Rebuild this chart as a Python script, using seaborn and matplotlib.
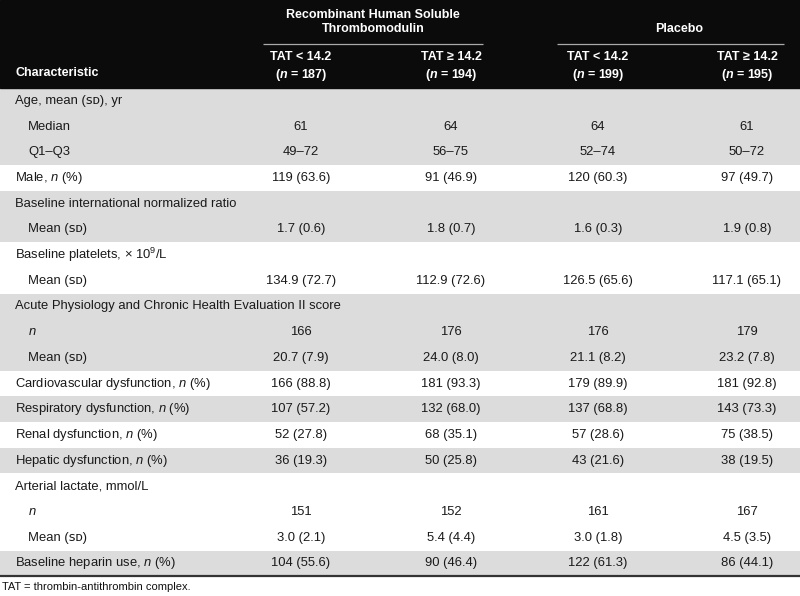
import numpy as np
import matplotlib
matplotlib.use("Agg")
from matplotlib import pyplot as plt
from matplotlib.colors import ListedColormap
import seaborn as sb

SD = "\uA731\u1D05"  # small caps "sd"

labels = ["Age, mean (" + SD + "), yr", "Median", "Q1\u2013Q3", "Male, $n$ (%)",
          "Baseline international normalized ratio", "Mean (" + SD + ")",
          "Baseline platelets, \u00d7 10$^9$/L", "Mean (" + SD + ")",
          "Acute Physiology and Chronic Health Evaluation II score", "$n$", "Mean (" + SD + ")",
          "Cardiovascular dysfunction, $n$ (%)", "Respiratory dysfunction, $n$ (%)",
          "Renal dysfunction, $n$ (%)", "Hepatic dysfunction, $n$ (%)",
          "Arterial lactate, mmol/L", "$n$", "Mean (" + SD + ")",
          "Baseline heparin use, $n$ (%)"]
indent = [0, 1, 1, 0, 0, 1, 0, 1, 0, 1, 1, 0, 0, 0, 0, 0, 1, 1, 0]
shade = [1, 1, 1, 0, 1, 1, 0, 0, 1, 1, 1, 0, 1, 0, 1, 0, 0, 0, 1]

rhs_low = ["", "61", "49\u201372", "119 (63.6)", "", "1.7 (0.6)", "", "134.9 (72.7)", "",
           "166", "20.7 (7.9)", "166 (88.8)", "107 (57.2)", "52 (27.8)", "36 (19.3)", "",
           "151", "3.0 (2.1)", "104 (55.6)"]
rhs_high = ["", "64", "56\u201375", "91 (46.9)", "", "1.8 (0.7)", "", "112.9 (72.6)", "",
            "176", "24.0 (8.0)", "181 (93.3)", "132 (68.0)", "68 (35.1)", "50 (25.8)", "",
            "152", "5.4 (4.4)", "90 (46.4)"]
pla_low = ["", "64", "52\u201374", "120 (60.3)", "", "1.6 (0.3)", "", "126.5 (65.6)", "",
           "176", "21.1 (8.2)", "179 (89.9)", "137 (68.8)", "57 (28.6)", "43 (21.6)", "",
           "161", "3.0 (1.8)", "122 (61.3)"]
pla_high = ["", "61", "50\u201372", "97 (49.7)", "", "1.9 (0.8)", "", "117.1 (65.1)", "",
            "179", "23.2 (7.8)", "181 (92.8)", "143 (73.3)", "75 (38.5)", "38 (19.5)", "",
            "167", "4.5 (3.5)", "86 (44.1)"]

groups = ["Recombinant Human Soluble\nThrombomodulin", "Placebo"]
sub_heads = ["TAT < 14.2\n($\\mathbfit{n}$ = 187)", "TAT \u2265 14.2\n($\\mathbfit{n}$ = 194)",
             "TAT < 14.2\n($\\mathbfit{n}$ = 199)", "TAT \u2265 14.2\n($\\mathbfit{n}$ = 195)"]
footnote = "TAT = thrombin-antithrombin complex."

sb.set_style("white")
plt.rcParams['font.family'] = ['Liberation Sans', 'DejaVu Sans']
plt.rcParams['mathtext.fontset'] = 'custom'
plt.rcParams['mathtext.rm'] = 'Liberation Sans'
plt.rcParams['mathtext.it'] = 'Liberation Sans:italic'
plt.rcParams['mathtext.bf'] = 'Liberation Sans:bold'
plt.rcParams['mathtext.bfit'] = 'Liberation Sans:italic:bold'

W, H = 800, 596
head_h = 88
row_h = 25.7
body_bot = head_h + row_h * len(labels)

fig = plt.figure(figsize=(8, 5.96), dpi=100)

# row striping through a one-column heatmap
ax_body = fig.add_axes([0, 1 - body_bot / H, 1, (body_bot - head_h) / H])
sb.heatmap(np.array(shade).reshape(-1, 1), cmap=ListedColormap(['white', '#dcdcdc']),
           cbar=False, ax=ax_body, xticklabels=False, yticklabels=False)
ax_body.set_axis_off()

ax = fig.add_axes([0, 0, 1, 1])
ax.set_xlim(0, W)
ax.set_ylim(H, 0)
ax.set_axis_off()
ax.patch.set_alpha(0)

ax.axhspan(0, head_h, color='#0b0b0b', zorder=0)
ax.hlines(body_bot, 0, W, color='#333333', lw=1.6)

col_x = [301, 451, 598, 747]
fs = 9.4
hfs = 9

# header
ax.text(373, 22, groups[0], color='white', fontsize=hfs, fontweight='bold',
        ha='center', va='center', linespacing=1.3)
ax.text(679, 29, groups[1], color='white', fontsize=hfs, fontweight='bold',
        ha='center', va='center')
ax.hlines(44, 263, 483, color='#aaaaaa', lw=0.9)
ax.hlines(44, 557, 784, color='#aaaaaa', lw=0.9)
for x, s in zip(col_x, sub_heads):
    ax.text(x, 67, s, color='white', fontsize=hfs, fontweight='bold',
            ha='center', va='center', linespacing=1.3)
ax.text(15, 73, "Characteristic", color='white', fontsize=hfs, fontweight='bold',
        ha='left', va='center')

# body
for i, lab in enumerate(labels):
    y = head_h + (i + 0.5) * row_h
    ax.text(15 + 13 * indent[i], y, lab, fontsize=fs, color='#1a1a1a', ha='left', va='center')
    for x, col in zip(col_x, [rhs_low, rhs_high, pla_low, pla_high]):
        if col[i]:
            ax.text(x, y, col[i], fontsize=fs, color='#1a1a1a', ha='center', va='center')

ax.text(2, 587, footnote, fontsize=8, color='#111111', ha='left', va='center')

plt.savefig('out.png', dpi=100)
plt.close()
